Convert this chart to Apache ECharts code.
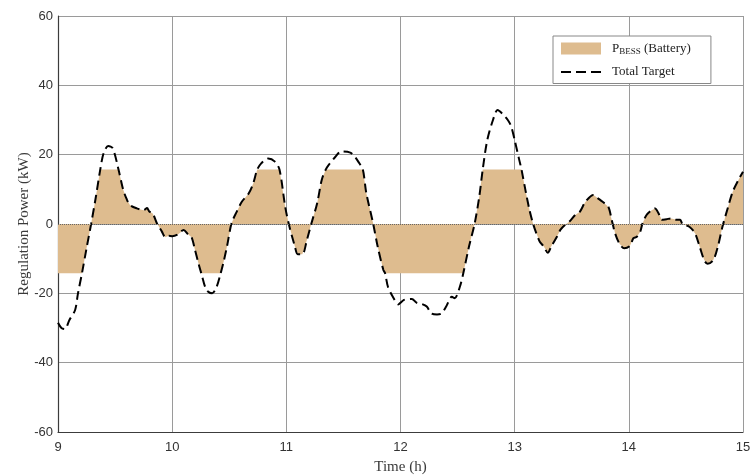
<!DOCTYPE html>
<html>
<head>
<meta charset="utf-8">
<script src="https://cdn.jsdelivr.net/npm/echarts@6/dist/echarts.min.js"></script>
<style>html,body{margin:0;padding:0;background:#fff}#c{width:753px;height:476px}</style>
</head>
<body>
<div id="c"></div>
<script>
var timeH = [9.00,9.03,9.06,9.10,9.15,9.175,9.21,9.25,9.29,9.33,9.37,9.40,9.44,9.48,9.53,9.57,9.60,9.63,9.69,9.75,9.78,9.80,9.83,9.865,9.91,9.94,9.97,10.00,10.05,10.10,10.14,10.17,10.20,10.23,10.255,10.30,10.35,10.39,10.425,10.45,10.48,10.52,10.565,10.61,10.67,10.71,10.745,10.78,10.84,10.90,10.94,10.99,11.02,11.075,11.10,11.14,11.18,11.22,11.27,11.31,11.345,11.37,11.43,11.48,11.56,11.60,11.63,11.67,11.70,11.76,11.80,11.85,11.865,11.89,11.94,11.98,12.03,12.10,12.14,12.19,12.23,12.27,12.32,12.36,12.40,12.45,12.475,12.52,12.55,12.60,12.65,12.69,12.72,12.76,12.81,12.85,12.89,12.94,12.97,13.00,13.04,13.06,13.10,13.13,13.16,13.19,13.22,13.255,13.29,13.32,13.37,13.40,13.44,13.48,13.53,13.57,13.62,13.69,13.73,13.77,13.82,13.85,13.88,13.92,13.96,14.01,14.04,14.07,14.10,14.12,14.155,14.20,14.23,14.26,14.29,14.33,14.37,14.42,14.45,14.47,14.53,14.58,14.62,14.66,14.69,14.74,14.78,14.82,14.87,14.91,14.96,15.00];

var totalTarget = [-28.5,-30.0,-30.3,-27.7,-24.8,-20.0,-14.2,-7.0,0.0,7.5,15.7,20.5,22.5,21.8,15.7,10.0,7.3,5.5,4.5,4.0,4.6,3.6,3.0,0.3,-2.2,-3.8,-3.4,-3.5,-3.0,-1.7,-3.0,-3.8,-7.5,-11.3,-14.2,-19.0,-20.0,-18.1,-14.2,-11.0,-6.5,0.2,3.5,6.4,8.8,11.7,15.7,17.5,18.9,18.0,15.7,5.0,0.2,-6.5,-8.7,-8.7,-4.6,0.2,6.0,12.7,15.7,17.0,19.4,20.9,20.6,19.4,18.0,15.7,9.0,0.2,-6.5,-13.3,-14.2,-18.1,-21.4,-23.2,-21.9,-21.6,-22.7,-23.1,-23.8,-25.8,-26.1,-25.8,-23.8,-21.0,-21.4,-18.1,-14.2,-6.5,0.2,7.9,15.7,24.2,30.0,32.9,31.9,30.0,28.1,24.2,18.5,15.7,8.8,4.0,0.2,-2.7,-5.1,-6.5,-8.3,-6.5,-3.7,-1.7,-0.3,0.7,2.6,3.5,6.4,8.4,7.4,6.4,5.0,1.2,-2.7,-5.8,-7.0,-6.3,-4.1,-3.7,-2.2,0.2,2.6,4.0,4.5,3.1,1.2,1.4,1.6,1.2,1.2,0.0,-0.8,-2.7,-6.5,-10.4,-11.5,-10.4,-6.5,-0.8,5.0,9.3,12.7,15.1];

var pBess = [-14.2,-14.2,-14.2,-14.2,-14.2,-14.2,-14.2,-7.0,0.0,7.5,15.7,15.7,15.7,15.7,15.7,10.0,7.3,5.5,4.5,4.0,4.6,3.6,3.0,0.3,-2.2,-3.8,-3.4,-3.5,-3.0,-1.7,-3.0,-3.8,-7.5,-11.3,-14.2,-14.2,-14.2,-14.2,-14.2,-11.0,-6.5,0.2,3.5,6.4,8.8,11.7,15.7,15.7,15.7,15.7,15.7,5.0,0.2,-6.5,-8.7,-8.7,-4.6,0.2,6.0,12.7,15.7,15.7,15.7,15.7,15.7,15.7,15.7,15.7,9.0,0.2,-6.5,-13.3,-14.2,-14.2,-14.2,-14.2,-14.2,-14.2,-14.2,-14.2,-14.2,-14.2,-14.2,-14.2,-14.2,-14.2,-14.2,-14.2,-14.2,-6.5,0.2,7.9,15.7,15.7,15.7,15.7,15.7,15.7,15.7,15.7,15.7,15.7,8.8,4.0,0.2,-2.7,-5.1,-6.5,-8.3,-6.5,-3.7,-1.7,-0.3,0.7,2.6,3.5,6.4,8.4,7.4,6.4,5.0,1.2,-2.7,-5.8,-7.0,-6.3,-4.1,-3.7,-2.2,0.2,2.6,4.0,4.5,3.1,1.2,1.4,1.6,1.2,1.2,0.0,-0.8,-2.7,-6.5,-10.4,-11.5,-10.4,-6.5,-0.8,5.0,9.3,12.7,15.1];

var xTicks = [9,10,11,12,13,14,15];
var yTicks = [-60,-40,-20,0,20,40,60];

var tanColor = '#DEBC8F';
var serif = '"Liberation Serif","Times New Roman",serif';
var sans = '"Liberation Sans",Arial,sans-serif';

function pairs(xs, ys){ return xs.map(function(x,i){ return [x, ys[i]]; }); }

var chart = echarts.init(document.getElementById('c'), null, {renderer:'canvas'});
chart.setOption({
  animation:false,
  backgroundColor:'#fff',
  grid:{left:58, right:10, top:16, bottom:44, containLabel:false, outerBoundsMode:'none'},
  xAxis:{
    type:'value', min:xTicks[0], max:xTicks[xTicks.length-1], interval:1,
    name:'Time (h)', nameLocation:'middle', nameGap:28, nameMoveOverlap:false,
    nameTextStyle:{fontFamily:serif, fontSize:15, color:'#3a3a3a'},
    axisLine:{show:true, onZero:false, lineStyle:{color:'#3c3c3c', width:1.2}},
    axisTick:{show:false},
    axisLabel:{fontFamily:sans, fontSize:13, color:'#333', margin:9},
    splitLine:{show:true, lineStyle:{color:'#9a9a9a', width:1}}
  },
  yAxis:{
    type:'value', min:yTicks[0], max:yTicks[yTicks.length-1], interval:20,
    name:'Regulation Power (kW)', nameLocation:'middle', nameGap:26, nameMoveOverlap:false,
    nameTextStyle:{fontFamily:serif, fontSize:15, color:'#3a3a3a'},
    axisLine:{show:true, onZero:false, lineStyle:{color:'#3c3c3c', width:1.2}},
    axisTick:{show:false},
    axisLabel:{fontFamily:sans, fontSize:13, color:'#333', margin:5},
    splitLine:{show:true, lineStyle:{color:'#9a9a9a', width:1}}
  },
  legend:{
    orient:'vertical', left:553, top:36,
    backgroundColor:'#fff', borderColor:'#888', borderWidth:1,
    padding:[6,20,5,7], itemGap:9, itemWidth:40, itemHeight:12,
    textStyle:{fontFamily:serif, fontSize:13, color:'#222', padding:[0,0,0,6],
      rich:{
        p:{fontFamily:serif, fontSize:13, color:'#222'},
        s:{fontFamily:serif, fontSize:9, color:'#222', padding:[7,0,0,0]}
      }
    },
    formatter:function(n){ return n==='PBESS' ? '{p|P}{s|BESS}{p| (Battery)}' : n; },
    data:[
      {name:'PBESS', icon:'rect', itemStyle:{color:tanColor}},
      {name:'Total Target',
       itemStyle:{color:'rgba(0,0,0,0)', borderColor:'rgba(0,0,0,0)', borderWidth:0, opacity:0},
       lineStyle:{color:'#000', width:2, type:[10,5]}}
    ]
  },
  series:[
    {
      name:'PBESS', type:'line', data:pairs(timeH, pBess),
      showSymbol:false, symbol:'none', smooth:false,
      lineStyle:{width:0, color:tanColor},
      itemStyle:{color:tanColor},
      areaStyle:{color:tanColor, opacity:1, origin:0},
      markLine:{silent:true, symbol:'none', label:{show:false},
        lineStyle:{type:'dotted', color:'#666', width:1},
        data:[{yAxis:0}]},
      z:2
    },
    {
      name:'Total Target', type:'line', data:pairs(timeH, totalTarget),
      showSymbol:false, symbol:'none', smooth:0.3,
      lineStyle:{color:'#000', width:2, type:[9,5]},
      itemStyle:{color:'#000'},
      z:3
    }
  ]
});
</script>
</body>
</html>
